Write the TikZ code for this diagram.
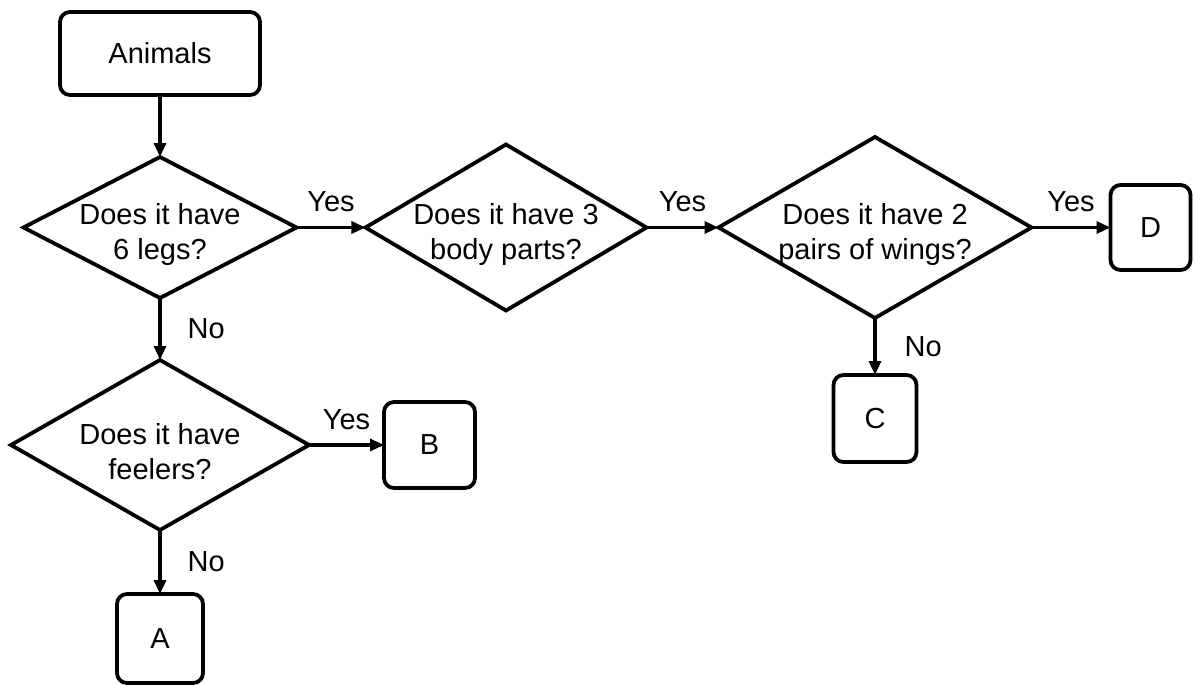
\documentclass[tikz,border=0pt]{standalone}
\usepackage{fontspec}
\setmainfont{Liberation Sans}
\usetikzlibrary{arrows.meta,positioning,shapes.geometric}
\tikzset{
  box/.style={rounded corners=5pt, draw, line width=1.9pt, align=center, inner sep=0pt, outer sep=0pt},
  question/.style={diamond, draw, line width=1.9pt, inner sep=0pt, outer sep=0pt},
  qtext/.style={align=center, inner sep=0pt, yshift=-3.5pt},
  line/.style={-{Triangle[length=7pt,width=6pt]}, line width=1.6pt},
  answer/.style={inner sep=2pt}
}

\begin{document}
\begin{tikzpicture}[font=\fontsize{14.5}{17.5}\selectfont]
  \useasboundingbox (0,0) rectangle (597pt,-342.5pt);

  \node[box, minimum width=100pt, minimum height=41.5pt] (animals) at (80pt,-26.75pt) {Animals};
  \node[question, minimum width=136.5pt, minimum height=70.5pt, below=31pt of animals,
        label={[qtext]center:Does it have\\6 legs?}] (legs) {};
  \node[question, minimum width=140.5pt, minimum height=83pt, right=34.5pt of legs,
        label={[qtext]center:Does it have 3\\body parts?}] (body) {};
  \node[question, minimum width=156.5pt, minimum height=90.5pt, right=36pt of body,
        label={[qtext]center:Does it have 2\\pairs of wings?}] (wings) {};
  \node[box, minimum width=40pt, minimum height=42.5pt, right=39.5pt of wings] (d) {D};
  \node[box, minimum width=41.5pt, minimum height=43.5pt, below=28.5pt of wings] (c) {C};
  \node[question, minimum width=149pt, minimum height=85pt, below=31pt of legs,
        label={[qtext]center:Does it have\\feelers?}] (feelers) {};
  \node[box, minimum width=45.5pt, minimum height=43pt, right=37.5pt of feelers] (b) {B};
  \node[box, minimum width=43pt, minimum height=44.5pt, below=32pt of feelers] (a) {A};

  \draw[line] (animals) -- (legs);
  \draw[line] (legs) -- node[answer, above=5pt] {Yes} (body);
  \draw[line] (body) -- node[answer, above=5pt] {Yes} (wings);
  \draw[line] (wings) -- node[answer, above=5pt] {Yes} (d);
  \draw[line] (wings) -- node[answer, right=12pt] {No} (c);
  \draw[line] (legs) -- node[answer, right=11pt] {No} (feelers);
  \draw[line] (feelers) -- node[answer, above=5pt] {Yes} (b);
  \draw[line] (feelers) -- node[answer, right=11pt] {No} (a);
\end{tikzpicture}
\end{document}
